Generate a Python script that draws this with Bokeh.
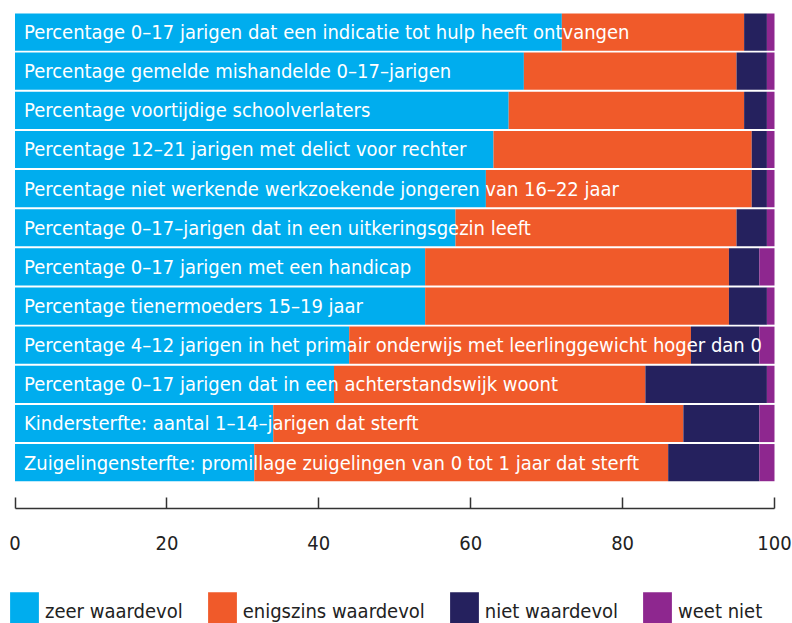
from bokeh.plotting import figure
from bokeh.models import Range1d, ColumnDataSource, Legend, LegendItem, FixedTicker
from bokeh.core.properties import value
from bokeh.embed import file_html
from bokeh.resources import INLINE

categories = [
    "Percentage 0\u201317 jarigen dat een indicatie tot hulp heeft ontvangen",
    "Percentage gemelde mishandelde 0\u201317\u2013jarigen",
    "Percentage voortijdige schoolverlaters",
    "Percentage 12\u201321 jarigen met delict voor rechter",
    "Percentage niet werkende werkzoekende jongeren van 16\u201322 jaar",
    "Percentage 0\u201317\u2013jarigen dat in een uitkeringsgezin leeft",
    "Percentage 0\u201317 jarigen met een handicap",
    "Percentage tienermoeders 15\u201319 jaar",
    "Percentage 4\u201312 jarigen in het primair onderwijs met leerlinggewicht hoger dan 0",
    "Percentage 0\u201317 jarigen dat in een achterstandswijk woont",
    "Kindersterfte: aantal 1\u201314\u2013jarigen dat sterft",
    "Zuigelingensterfte: promillage zuigelingen van 0 tot 1 jaar dat sterft",
]
zeer_waardevol = [72, 67, 65, 63, 62, 58, 54, 54, 44, 42, 34, 31.5]
enigszins_waardevol = [24, 28, 31, 34, 35, 37, 40, 40, 45, 41, 54, 54.5]
niet_waardevol = [3, 4, 3, 2, 2, 4, 4, 5, 9, 16, 10, 12]
weet_niet = [1, 1, 1, 1, 1, 1, 2, 1, 2, 1, 2, 2]
series_names = ["zeer waardevol", "enigszins waardevol", "niet waardevol", "weet niet"]
colors = ["#00ADEE", "#F05A2A", "#25215E", "#8E278F"]
x_ticks = [0, 20, 40, 60, 80, 100]

FONT = "DejaVu Sans Condensed, Noto Sans, sans-serif"

n = len(categories)
ypos = [n - 1 - i for i in range(n)]
src = ColumnDataSource(dict(
    y=ypos, cat=categories,
    zeer=zeer_waardevol, enig=enigszins_waardevol,
    niet=niet_waardevol, weet=weet_niet,
))

p = figure(width=792, height=623, output_backend="svg", toolbar_location=None,
           x_range=Range1d(-1.12, 102.37), y_range=Range1d(-4.11, n - 0.5),
           min_border_left=6, min_border_right=0, min_border_top=12,
           min_border_bottom=0)
p.outline_line_color = None
p.grid.visible = False
p.yaxis.visible = False

renderers = p.hbar_stack(["zeer", "enig", "niet", "weet"], y="y", height=0.95,
                         color=colors, source=src, line_width=0)

p.text(x=0, y="y", text="cat", source=src, x_offset=9, text_color="white",
       text_font=value(FONT), text_font_size="20px", text_baseline="middle",
       text_align="left")

ax = p.xaxis[0]
ax.fixed_location = -1.17
ax.bounds = (0, 100)
ax.ticker = FixedTicker(ticks=x_ticks)
ax.major_tick_in = 11
ax.major_tick_out = 0
ax.minor_tick_line_color = None
ax.axis_line_color = "#333333"
ax.axis_line_width = 1.5
ax.major_tick_line_color = "#333333"
ax.major_tick_line_width = 1.5
ax.major_label_text_font = FONT
ax.major_label_text_font_size = "20px"
ax.major_label_text_color = "#222222"
ax.major_label_standoff = 28

legend = Legend(items=[LegendItem(label=nm, renderers=[r]) for nm, r in zip(series_names, renderers)],
                orientation="horizontal", location=(0, -12),
                glyph_width=36, glyph_height=48, label_height=48,
                label_standoff=3, spacing=21,
                padding=0, margin=0, border_line_color=None, background_fill_alpha=0,
                label_text_font=FONT, label_text_font_size="20px",
                label_text_color="#222222")
p.add_layout(legend)

open("out.html", "w").write(file_html(p, INLINE))
